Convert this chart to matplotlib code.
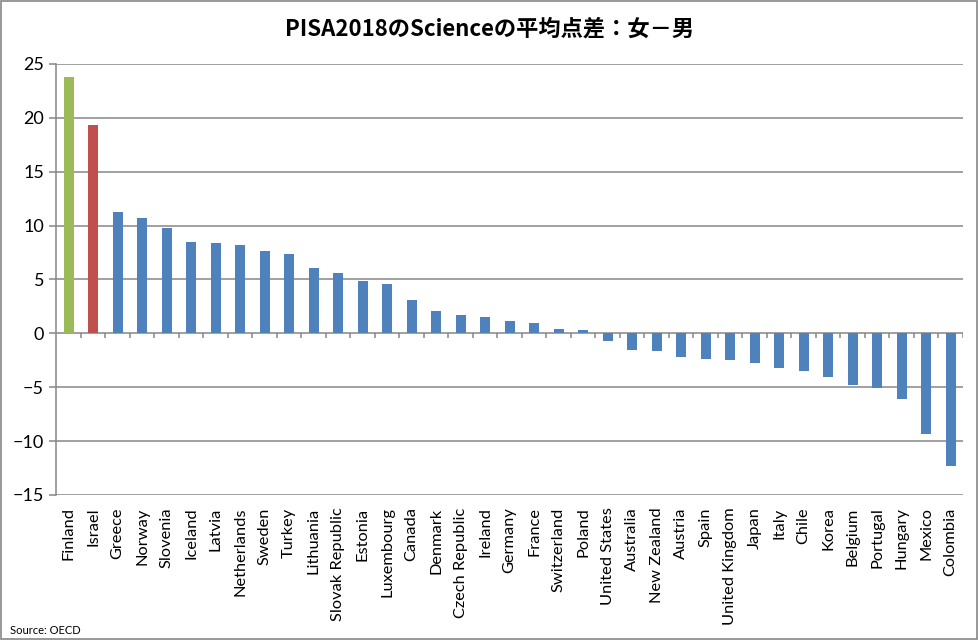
import numpy as np
import matplotlib
matplotlib.use("Agg")
import matplotlib.pyplot as plt
from matplotlib.patches import Rectangle

plt.rcParams['font.family'] = ['Lato', 'Noto Sans CJK JP', 'DejaVu Sans']

# PISA 2018 science: girls minus boys
countries = ["Finland", "Israel", "Greece", "Norway", "Slovenia", "Iceland", "Latvia",
             "Netherlands", "Sweden", "Turkey", "Lithuania", "Slovak Republic", "Estonia",
             "Luxembourg", "Canada", "Denmark", "Czech Republic", "Ireland", "Germany",
             "France", "Switzerland", "Poland", "United States", "Australia", "New Zealand",
             "Austria", "Spain", "United Kingdom", "Japan", "Italy", "Chile", "Korea",
             "Belgium", "Portugal", "Hungary", "Mexico", "Colombia"]
diff = [23.8, 19.3, 11.3, 10.7, 9.75, 8.45, 8.35,
        8.2, 7.6, 7.4, 6.1, 5.6, 4.9,
        4.6, 3.1, 2.1, 1.7, 1.5, 1.15,
        0.95, 0.4, 0.3, -0.7, -1.55, -1.65,
        -2.2, -2.4, -2.5, -2.75, -3.2, -3.5, -4.05,
        -4.8, -5.1, -6.1, -9.3, -12.3]
highlight = {"Finland": "#9BBB59", "Israel": "#C0504D"}
yticks = np.arange(-15, 26, 5)

grey = "#868686"
fig = plt.figure(figsize=(9.79, 6.4), dpi=100)
ax = fig.add_axes([0.0577, 0.2266, 0.9259, 0.6734])

x = np.arange(len(countries))
colors = [highlight.get(c, "#4F81BD") for c in countries]
ax.bar(x, diff, width=0.41, color=colors, zorder=3)

ax.set_xlim(-0.5, len(countries) - 0.5)
ax.set_ylim(-15, 25)
ax.set_yticks(yticks)
for v in yticks:
    ax.axhline(v, color=grey, lw=1.1, zorder=1)
# category axis sits on zero with its tick marks between bars
ax.vlines(x + 0.5, -0.47, 0, color=grey, lw=1.1, zorder=2)

ax.set_xticks(x)
ax.set_xticklabels(countries, rotation=90, fontsize=11.8)
ax.tick_params(axis='x', length=0, pad=9)
ax.tick_params(axis='y', length=5, color=grey, width=1.1, labelsize=13, pad=4)

for s in ["top", "right", "bottom"]:
    ax.spines[s].set_visible(False)
ax.spines["left"].set_color(grey)
ax.spines["left"].set_linewidth(1.1)

fig.text(0.5, 0.955, "PISA2018のScienceの平均点差：女－男", ha='center', va='center',
         fontsize=16, fontweight='bold', family=['Noto Sans CJK JP', 'DejaVu Sans'])
fig.text(0.01, 0.015, "Source: OECD", fontsize=8, ha='left', va='center')

fig.patches.append(Rectangle((0.001, 0.001), 0.997, 0.997, transform=fig.transFigure,
                             fill=False, edgecolor=grey, lw=1.2))

fig.savefig("out.png", dpi=100)
